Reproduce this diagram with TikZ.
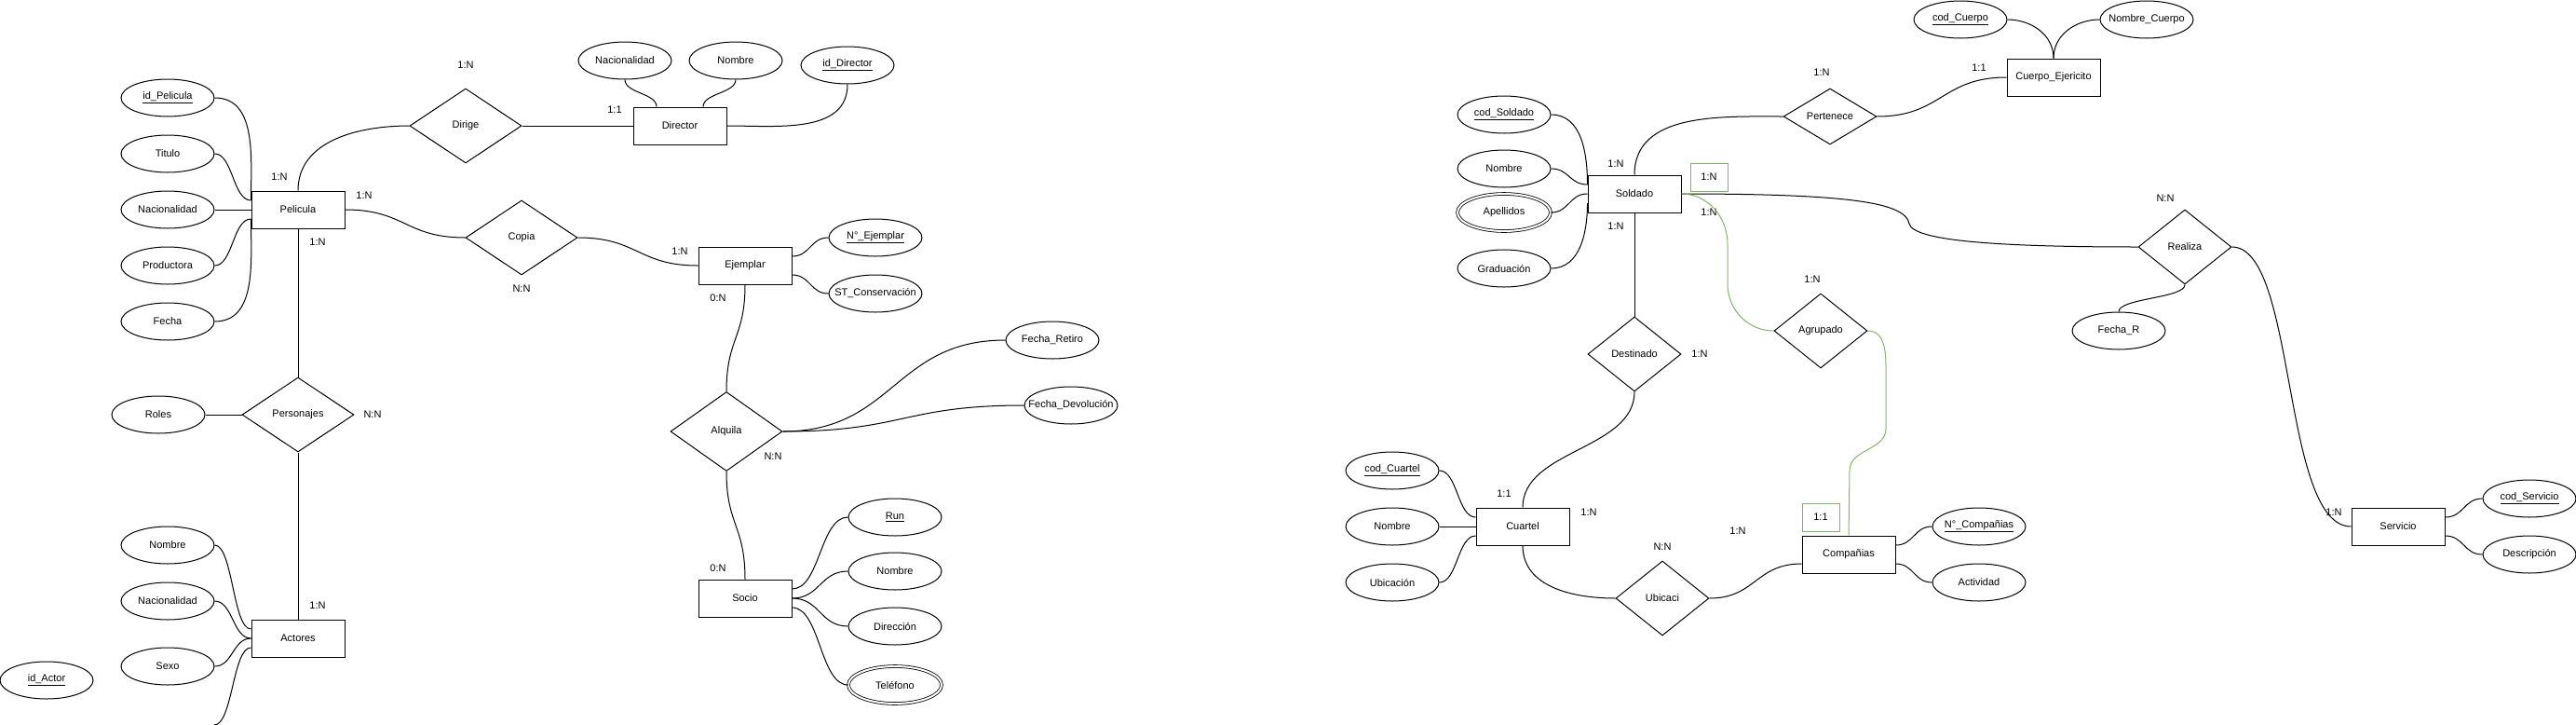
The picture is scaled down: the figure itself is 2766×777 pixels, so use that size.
\documentclass[tikz,border=0pt]{standalone}
\usepackage{fontspec}
\setmainfont{Liberation Sans}
\usetikzlibrary{
    positioning,
    calc,
    shapes.geometric
}
\definecolor{EdgeGreen}{HTML}{82B366}

\begin{document}
\begin{tikzpicture}[
    x=1pt, y=-1pt,
    every node/.style={font=\fontsize{11pt}{13pt}\selectfont},
    entity/.style={rectangle, draw, line width=1pt, minimum width=100pt, minimum height=40pt, inner sep=0pt},
    attr/.style={ellipse, draw, line width=1pt, minimum width=100pt, minimum height=40pt, inner xsep=-12pt, inner ysep=2pt},
    multi/.style={attr, double, line width=0.8pt, double distance=2pt},
    rel/.style={diamond, draw, line width=1pt, minimum width=120pt, minimum height=80pt, inner sep=0pt},
    card/.style={inner sep=0pt},
    cardbox/.style={draw=EdgeGreen, line width=1pt, minimum width=40pt, minimum height=30pt, inner sep=0pt},
    link/.style={line width=1pt},
    greenlink/.style={line width=1pt, draw=EdgeGreen},
    hcurve/.style={to path={let \p1=(\tikztostart), \p2=(\tikztotarget) in
        .. controls ({(\x1+\x2)/2},\y1) and ({(\x1+\x2)/2},\y2) .. (\tikztotarget) \tikztonodes}},
    vcurve/.style={to path={let \p1=(\tikztostart), \p2=(\tikztotarget) in
        .. controls (\x1,{(\y1+\y2)/2}) and (\x2,{(\y1+\y2)/2}) .. (\tikztotarget) \tikztonodes}}
]
\useasboundingbox (0,0) rectangle (2766,777);

% Peliculas
\node[entity] (pelicula) at (320,225) {Pelicula};
\node[attr] (idpelicula) at (180,105) {\underline{id\_Pelicula}};
\node[attr] (titulo) at (180,165) {Titulo};
\node[attr] (nacpelicula) at (180,225) {Nacionalidad};
\node[attr] (productora) at (180,285) {Productora};
\node[attr] (fecha) at (180,345) {Fecha};
\node[rel] (dirige) at (500,135) {Dirige};
\node[entity] (director) at (730,135) {Director};
\node[attr] (nacdirector) at (671,65) {Nacionalidad};
\node[attr] (nomdirector) at (790,65) {Nombre};
\node[attr] (iddirector) at (910,70) {\underline{id\_Director}};
\node[rel] (copia) at (560,255) {Copia};
\node[entity] (ejemplar) at (800,285) {Ejemplar};
\node[attr] (nejemplar) at (940,255) {\underline{N°\_Ejemplar}};
\node[attr] (conservacion) at (940,315) {ST\_Conservación};
\node[rel, minimum height=85pt] (alquila) at (780,463) {Alquila};
\node[attr] (retiro) at (1130,365) {Fecha\_Retiro};
\node[attr] (devolucion) at (1150,435) {Fecha\_Devolución};
\node[entity] (socio) at (800,642) {Socio};
\node[attr] (run) at (961,555) {\underline{Run}};
\node[attr] (nomsocio) at (961,613) {Nombre};
\node[attr] (direccion) at (961,672) {Dirección};
\node[multi] (telefono) at (961,735) {Teléfono};
\node[rel] (personajes) at (320,445) {Personajes};
\node[attr] (roles) at (170,445) {Roles};
\node[entity] (actores) at (320,685) {Actores};
\node[attr] (nomactor) at (180,585) {Nombre};
\node[attr] (nacactor) at (180,645) {Nacionalidad};
\node[attr] (sexo) at (180,715) {Sexo};
\node[attr] (idactor) at (50,730) {\underline{id\_Actor}};
\coordinate (actorcut) at (230,778);

\node[card] (ldirige) at (500,70) {1:N};
\node[card] (lpeltop) at (300,190) {1:N};
\node[card] (lpelright) at (391,210) {1:N};
\node[card] (lpelbottom) at (341,260) {1:N};
\node[card] (lcopia) at (560,310) {N:N};
\node[card] (ldirector) at (660,118) {1:1};
\node[card] (lejemplar) at (730,270) {1:N};
\node[card] (lejembottom) at (771,320) {0:N};
\node[card] (lalquila) at (830,490) {N:N};
\node[card] (lsocio) at (771,610) {0:N};
\node[card] (lpersonajes) at (400,445) {N:N};
\node[card] (lactores) at (341,650) {1:N};

\draw[link] (idpelicula.east) to[out=0,in=90] ([yshift=10pt]pelicula.west);
\draw[link] (titulo.east) to[hcurve] ([yshift=10pt]pelicula.west);
\draw[link] (nacpelicula) -- (pelicula);
\draw[link] (productora.east) to[hcurve] ([yshift=-10pt]pelicula.west);
\draw[link] (fecha.east) to[out=0,in=-90] ([yshift=-10pt]pelicula.west);
\draw[link] (pelicula.north) to[out=90,in=180] (dirige.west);
\draw[link] (dirige) -- (director);
\draw[link] (nacdirector.south) to[vcurve] ([xshift=-25pt]director.north);
\draw[link] (nomdirector.south) to[vcurve] ([xshift=25pt]director.north);
\draw[link] (director.east) to[out=0,in=-90] (iddirector.south);
\draw[link] (pelicula.east) to[hcurve] (copia.west);
\draw[link] (copia.east) to[hcurve] (ejemplar.west);
\draw[link] ([yshift=10pt]ejemplar.east) to[hcurve] (nejemplar.west);
\draw[link] ([yshift=-10pt]ejemplar.east) to[hcurve] (conservacion.west);
\draw[link] (ejemplar.south) to[vcurve] (alquila.north);
\draw[link] (alquila.east) to[hcurve] (retiro.west);
\draw[link] (alquila.east) to[hcurve] (devolucion.west);
\draw[link] (alquila.south) to[vcurve] (socio.north);
\draw[link] ([yshift=10pt]socio.east) to[hcurve] (run.west);
\draw[link] (socio.east) to[hcurve] (nomsocio.west);
\draw[link] (socio.east) to[hcurve] (direccion.west);
\draw[link] ([yshift=-10pt]socio.east) to[hcurve] (telefono.west);
\draw[link] (pelicula) -- (personajes);
\draw[link] (roles) -- (personajes);
\draw[link] (personajes) -- (actores);
\draw[link] (nomactor.east) to[hcurve] ([yshift=10pt]actores.west);
\draw[link] (nacactor.east) to[hcurve] (actores.west);
\draw[link] (sexo.east) to[hcurve] (actores.west);
\draw[link] ([yshift=-10pt]actores.west) to[hcurve] (actorcut);

% Ejercito
\node[entity] (soldado) at (1755,208) {Soldado};
\node[attr] (codsoldado) at (1615,123) {\underline{cod\_Soldado}};
\node[attr] (nomsoldado) at (1615,181) {Nombre};
\node[multi] (apellidos) at (1615,228) {Apellidos};
\node[attr] (graduacion) at (1615,288) {Graduación};
\node[rel, minimum width=100pt, minimum height=60pt] (pertenece) at (1965,125) {Pertenece};
\node[entity] (cuerpo) at (2205,83) {Cuerpo\_Ejericito};
\node[attr] (codcuerpo) at (2105,21) {\underline{cod\_Cuerpo}};
\node[attr] (nomcuerpo) at (2305,21) {Nombre\_Cuerpo};
\node[rel, minimum width=100pt] (realiza) at (2346,265) {Realiza};
\node[attr] (fechar) at (2275,355) {Fecha\_R};
\node[entity] (servicio) at (2575,565) {Servicio};
\node[attr] (codservicio) at (2716,535) {\underline{cod\_Servicio}};
\node[attr] (descripcion) at (2716,595) {Descripción};
\node[rel, minimum width=100pt] (destinado) at (1755,380) {Destinado};
\node[rel, minimum width=100pt] (agrupado) at (1955,355) {Agrupado};
\node[entity] (cuartel) at (1635,565) {Cuartel};
\node[attr] (codcuartel) at (1495,505) {\underline{cod\_Cuartel}};
\node[attr] (nomcuartel) at (1495,565) {Nombre};
\node[attr] (ubicacion) at (1495,625) {Ubicación};
\node[rel, minimum width=100pt] (ubicaci) at (1785,642) {Ubicaci};
\node[entity] (companias) at (1985,595) {Compañias};
\node[attr] (ncompanias) at (2125,565) {\underline{N°\_Compañias}};
\node[attr] (actividad) at (2125,625) {Actividad};
\coordinate (realizabend) at (2050,240);

\node[cardbox] (lagrsoldado) at (1835,190) {1:N};
\node[cardbox] (lagrcompania) at (1955,555) {1:1};
\node[card] (lsoldtop) at (1735,176) {1:N};
\node[card] (lsoldright) at (1835,228) {1:N};
\node[card] (lsoldbottom) at (1735,243) {1:N};
\node[card] (lpertenece) at (1956,78) {1:N};
\node[card] (lagrupado) at (1946,300) {1:N};
\node[card] (ldestinado) at (1825,380) {1:N};
\node[card] (lcuerpo) at (2125,73) {1:1};
\node[card] (lrealiza) at (2325,213) {N:N};
\node[card] (lservicio) at (2506,550) {1:N};
\node[card] (lcuarteltop) at (1615,530) {1:1};
\node[card] (lcuartelright) at (1706,550) {1:N};
\node[card] (lubicaci) at (1785,587) {N:N};
\node[card] (lcompania) at (1866,570) {1:N};

\draw[link] (codsoldado.east) to[out=0,in=90] ([yshift=10pt]soldado.west);
\draw[link] (nomsoldado.east) to[hcurve] ([yshift=10pt]soldado.west);
\draw[link] (apellidos.east) to[hcurve] (soldado.west);
\draw[link] (graduacion.east) to[out=0,in=-90] ([yshift=-10pt]soldado.west);
\draw[link] (soldado.north) to[out=90,in=180] (pertenece.west);
\draw[link] (pertenece.east) to[hcurve] (cuerpo.west);
\draw[link] (codcuerpo.east) to[out=0,in=90] (cuerpo.north);
\draw[link] (nomcuerpo.west) to[out=180,in=90] (cuerpo.north);
\draw[link] (soldado.east) .. controls (1990,208) and (2046,218) .. (realizabend)
    .. controls (2054,258) and (2140,265) .. (realiza.west);
\draw[link] (realiza.south) to[vcurve] (fechar.north);
\draw[link] (realiza.east) .. controls +(70,0) and +(-75,0) .. (servicio.west);
\draw[link] ([yshift=10pt]servicio.east) to[hcurve] (codservicio.west);
\draw[link] ([yshift=-10pt]servicio.east) to[hcurve] (descripcion.west);
\draw[link] (soldado) -- (destinado);
\draw[link] (destinado.south) to[vcurve] (cuartel.north);
\draw[link] (codcuartel.east) to[hcurve] ([yshift=10pt]cuartel.west);
\draw[link] (nomcuartel) -- (cuartel);
\draw[link] (ubicacion.east) to[hcurve] ([yshift=-10pt]cuartel.west);
\draw[link] (cuartel.south) to[out=-90,in=180] (ubicaci.west);
\draw[link] (ubicaci.east) to[hcurve] ([yshift=-10pt]companias.west);
\draw[link] ([yshift=10pt]companias.east) to[hcurve] (ncompanias.west);
\draw[link] ([yshift=-10pt]companias.east) to[hcurve] (actividad.west);
\draw[greenlink] (soldado.east) to[out=0,in=90] (1855,262) -- (1855,305) to[out=-90,in=180] (agrupado.west);
\draw[greenlink] (agrupado.east) to[out=0,in=90] (2025,405) -- (2025,460) to[out=-90,in=90] (1986,505) -- (companias.north);
\end{tikzpicture}
\end{document}
